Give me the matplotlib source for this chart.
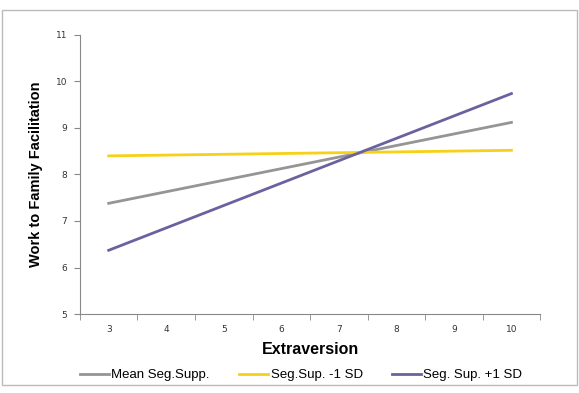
import numpy as np
import matplotlib.pyplot as plt
from matplotlib.patches import Rectangle

# regression lines at low / high extraversion
x_vals = [3, 10]
mean_seg = [7.38, 9.12]
minus_sd = [8.40, 8.52]
plus_sd = [6.37, 9.74]
x_ticks = [3, 4, 5, 6, 7, 8, 9, 10]
y_ticks = [5, 6, 7, 8, 9, 10, 11]

plt.rcParams['font.family'] = ['Liberation Sans', 'DejaVu Sans']

fig = plt.figure(figsize=(5.79, 3.93), dpi=100)
ax = fig.add_axes([0.138, 0.201, 0.795, 0.710])

ax.plot(x_vals, mean_seg, color='#959595', lw=2, label='Mean Seg.Supp.')
ax.plot(x_vals, minus_sd, color='#F7D117', lw=2, label='Seg.Sup. -1 SD')
ax.plot(x_vals, plus_sd, color='#6A629F', lw=2, label='Seg. Sup. +1 SD')

ax.set_xlim(2.5, 10.5)
ax.set_ylim(5, 11)
ax.set_xticks(x_ticks)
ax.set_xticklabels([str(t) for t in x_ticks], fontsize=6.5, color='#333333', family='DejaVu Sans')
ax.set_xticks(np.arange(2.5, 11, 1), minor=True)
ax.tick_params(axis='x', which='major', length=0, pad=8)
ax.tick_params(axis='x', which='minor', length=4, color='#888888', direction='out')
ax.set_yticks(y_ticks)
ax.set_yticklabels([str(t) for t in y_ticks], fontsize=6.5, color='#333333', family='DejaVu Sans')
ax.tick_params(axis='y', length=4, color='#888888', direction='out', pad=5)

for s in ['top', 'right']:
    ax.spines[s].set_visible(False)
for s in ['left', 'bottom']:
    ax.spines[s].set_color('#888888')
    ax.spines[s].set_linewidth(0.8)

ax.set_xlabel('Extraversion', fontsize=11.5, fontweight='bold', labelpad=6)
ax.set_ylabel('Work to Family Facilitation', fontsize=10.5, fontweight='bold', labelpad=9)

fig.legend(loc='center', bbox_to_anchor=(0.52, 1 - 375 / 393), ncol=3, frameon=False,
           fontsize=9.5, handlelength=2.2, handletextpad=0.2, columnspacing=2.2)

# outer chart border
fig.patches.append(Rectangle((0.004, 0.02), 0.992, 0.955, transform=fig.transFigure,
                             fill=False, edgecolor='#BBBBBB', lw=1))

fig.savefig('out.png', dpi=100)
